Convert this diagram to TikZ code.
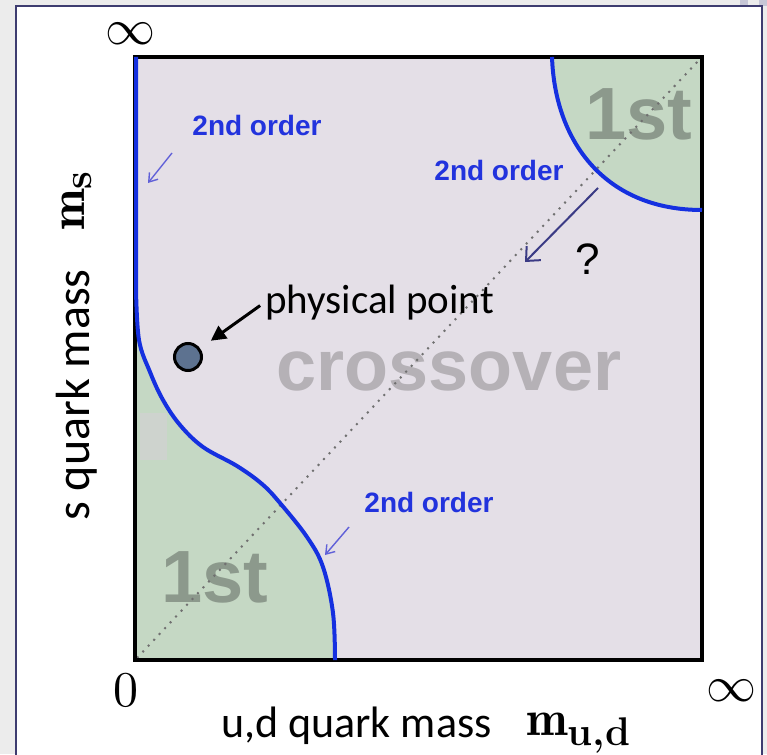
\RequirePackage{fix-cm}
\documentclass[tikz,border=0pt]{standalone}
\usepackage{fontspec}
\usetikzlibrary{arrows.meta}
\newfontfamily\calfont{Carlito}
\newfontfamily\arialfont{Liberation Sans}
\font\bigzero=cmr10 at 50pt
\definecolor{bggray}{HTML}{ECECEC}
\definecolor{panelborder}{HTML}{3E3C70}
\definecolor{cornerblk}{HTML}{C6C6D6}
\definecolor{lav}{HTML}{E4DFE7}
\definecolor{grn}{HTML}{C5D8C4}
\definecolor{smudge}{HTML}{CED3CE}
\definecolor{lineblue}{HTML}{1530E0}
\definecolor{labblue}{HTML}{2233DD}
\definecolor{arrblue}{HTML}{6060D8}
\definecolor{qblue}{HTML}{3B3B85}
\definecolor{firstgray}{HTML}{8C998C}
\definecolor{crossgray}{HTML}{B5B1B6}
\definecolor{dotfill}{HTML}{5D7290}
\definecolor{diaggray}{HTML}{707070}
\newcommand{\subbf}[1]{\mbox{\fontsize{40}{40}\selectfont\bfseries #1}}
\begin{document}
\begin{tikzpicture}[x=1pt,y=-1pt,
  secondlbl/.style={font=\arialfont\bfseries\fontsize{28}{28}\selectfont, text=labblue, inner sep=0pt},
  firstlbl/.style={font=\arialfont\bfseries\fontsize{74}{74}\selectfont, text=firstgray, inner sep=0pt},
  crosslbl/.style={font=\arialfont\bfseries\fontsize{72}{72}\selectfont, text=crossgray, inner sep=0pt},
  gilllbl/.style={font=\calfont\fontsize{41}{41}\selectfont, text=black, inner sep=0pt},
  axislbl/.style={font=\calfont\fontsize{44}{44}\selectfont, text=black, inner sep=0pt},
  vaxislbl/.style={font=\calfont\fontsize{48}{48}\selectfont, text=black, inner sep=0pt},
  axisnum/.style={font=\fontsize{50}{50}\selectfont, text=black, inner sep=0pt},
  masslbl/.style={font=\fontsize{50}{50}\selectfont, text=black, inner sep=0pt},
  smallarrow/.style={draw=arrblue, line width=1.4pt, -{Straight Barb[length=8pt,width=11pt]}},
  qarrow/.style={draw=qblue, line width=2pt, -{Straight Barb[length=11pt,width=20pt]}},
  pparrow/.style={draw=black, line width=3pt, -{Triangle[length=15pt,width=15pt]}},
  bluecurve/.style={draw=lineblue, line width=4pt},
  diagline/.style={draw=diaggray, line width=2pt, dash pattern=on 2pt off 6pt}
]
\useasboundingbox (0,0) rectangle (767,754);
% background and panel
\fill[bggray] (0,0) rectangle (767,754);
\fill[cornerblk] (740,0) rectangle (748,6);
\fill[cornerblk] (759,0) rectangle (767,6);
\draw[panelborder, fill=white, line width=2.5pt] (16,6) rectangle (762,760);
% plot area
\fill[lav] (135,57) rectangle (702,660);
\fill[grn] plot[smooth, tension=0.6] coordinates {(136,290) (139,340) (150,372) (163,400) (180,425) (203,447) (237,466) (262,484) (280,503) (307,537) (323,567) (333,613) (335,660)} -- (135,660) -- cycle;
\fill[smudge] (140,413) rectangle (167,460);
\fill[grn] (552,57) .. controls (555,145) and (608,210) .. (702,210) -- (702,57) -- cycle;
% big labels
\node[firstlbl, anchor=base] (f1) at (639,140) {1st};
\node[firstlbl, anchor=base] (f2) at (215,602) {1st};
\node[crosslbl, anchor=base] (cross) at (449,390) {crossover};
% diagonal
\coordinate (origin) at (137,658);
\coordinate (corner) at (700,59);
\draw[diagline] (origin) -- (corner);
% boundary
\draw[black, line width=4.5pt] (135,57) rectangle (702,660);
\draw[bluecurve] (136,57) -- plot[smooth, tension=0.6] coordinates {(136,290) (139,340) (150,372) (163,400) (180,425) (203,447) (237,466) (262,484) (280,503) (307,537) (323,567) (333,613) (335,660)};
\draw[bluecurve] (552,57) .. controls (555,145) and (608,210) .. (702,210);
% 2nd order labels and arrows
\node[secondlbl] (so1) at (257,125) {2nd order};
\node[secondlbl] (so2) at (499,170) {2nd order};
\node[secondlbl] (so3) at (429,502) {2nd order};
\coordinate (a1s) at (172,153);
\coordinate (a1e) at (148,183);
\draw[smallarrow] (a1s) -- (a1e);
\coordinate (a3s) at (349,527);
\coordinate (a3e) at (325,555);
\draw[smallarrow] (a3s) -- (a3e);
% question arrow
\coordinate (qs) at (598,188);
\coordinate (qe) at (525,262);
\draw[qarrow] (qs) -- (qe);
\node[font=\arialfont\fontsize{44}{44}\selectfont, inner sep=0pt, anchor=base] (qm) at (588,274) {?};
% physical point
\node[circle, draw=black, line width=3pt, fill=dotfill, minimum size=27pt, inner sep=0pt] (dot) at (188,357) {};
\node[gilllbl, anchor=base west] (pp) at (265,313) {physical point};
\draw[pparrow, shorten <=6pt, shorten >=13pt] (pp.west) -- (dot);
% axes labels
\node[axisnum] (inftop) at (130,34) {$\infty$};
\node[inner sep=0pt, anchor=base] (zero) at (126,706) {\bigzero 0};
\node[axisnum] (infright) at (731,691) {$\infty$};
\node[axislbl, anchor=base west] (udlbl) at (221,737) {u,d quark mass};
\node[masslbl, anchor=base west] (mud) at (526,735) {$\mathbf{m}_{\subbf{u,d}}$};
\node[vaxislbl, rotate=90, anchor=base] (slbl) at (89,395) {s quark mass};
\node[masslbl, rotate=90, anchor=base] (ms) at (84,201) {$\mathbf{m}_{\subbf{s}}$};
\end{tikzpicture}
\end{document}
